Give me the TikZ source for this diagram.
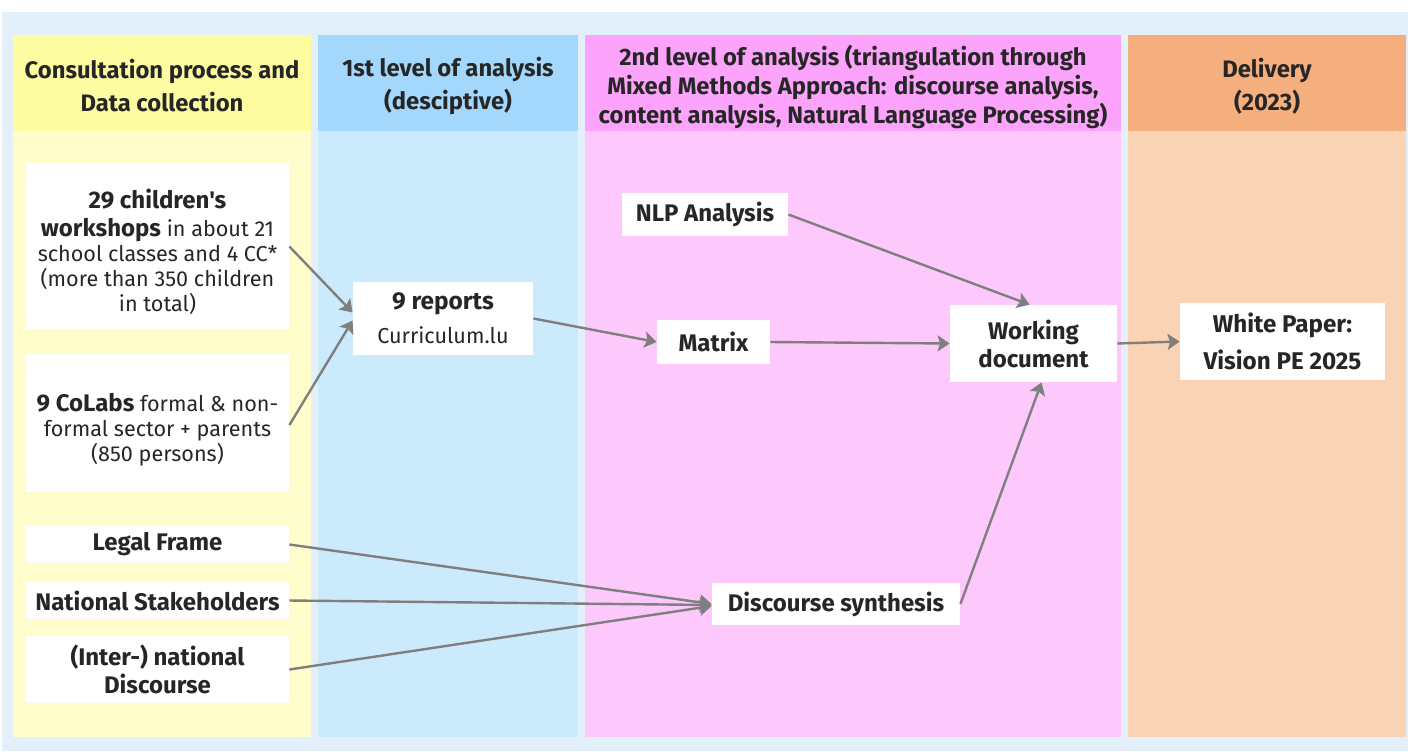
\documentclass[tikz,border=0pt]{standalone}
\usepackage{fontspec}
\setmainfont{Fira Sans}[Ligatures=TeXOff]
\usetikzlibrary{arrows.meta}

\definecolor{pagebg}{HTML}{E4F0F9}
\definecolor{yhead}{HTML}{FEFCA0}
\definecolor{ybody}{HTML}{FEFDCB}
\definecolor{bhead}{HTML}{A3D8FC}
\definecolor{bbody}{HTML}{CBEBFD}
\definecolor{phead}{HTML}{FCA3FB}
\definecolor{pbody}{HTML}{FDC9FD}
\definecolor{ohead}{HTML}{F5AE7E}
\definecolor{obody}{HTML}{FAD3B4}
\definecolor{ink}{HTML}{262626}
\definecolor{wire}{HTML}{7F7F7F}

% bold and regular sizes used on the cards
\newcommand{\bsz}{\fontsize{12}{14}\selectfont\bfseries}
\newcommand{\rsz}{\fontsize{10.8}{12.5}\selectfont}

\tikzset{
  headtext/.style={text=ink, font=\fontsize{11.9}{16.5}\selectfont\bfseries, align=center},
  card/.style={fill=white, inner sep=0pt, text=ink, align=center, font=\rsz},
  boldcard/.style={card, font=\bsz},
  cardtext/.style={inner sep=0pt, text=ink, align=center, font=\rsz},
  flow/.style={draw=wire, line width=1.2pt,
    -{Stealth[length=6pt, width=8pt, inset=1.2pt]}},
}

\begin{document}
\begin{tikzpicture}[x=0.5pt, y=-0.5pt]
\useasboundingbox (0,0) rectangle (1408,751);
\fill[white] (0,0) rectangle (1408,751);
\fill[pagebg] (2,12) rectangle (1408,751);

% swimlanes: header band and body
\fill[yhead] (13,35) rectangle (311,131);
\fill[ybody] (13,131) rectangle (311,737);
\fill[bhead] (318,35) rectangle (578,131);
\fill[bbody] (318,131) rectangle (578,737);
\fill[phead] (585,35) rectangle (1121,131);
\fill[pbody] (585,131) rectangle (1121,737);
\fill[ohead] (1128,35) rectangle (1406,131);
\fill[obody] (1128,131) rectangle (1406,737);

% lane titles
\node[headtext] (h1) at (162,86) {Consultation process and\\Data collection};
\node[headtext] (h2) at (448,86) {1st level of analysis\\(desciptive)};
\node[headtext, font=\fontsize{11.9}{14.4}\selectfont\bfseries] (h3) at (853,87)
  {2nd level of analysis (triangulation through\\Mixed Methods Approach: discourse analysis,\\content analysis, Natural Language Processing)};
\node[headtext] (h4) at (1267,86) {Delivery\\(2023)};

% source cards
\node[card, minimum width=131.5pt, minimum height=83pt] (kids) at (157.5,245.5) {};
\node[cardtext] (kids-text) at (157.5,252)
  {{\bsz 29 children's}\\[1.5pt]{\bsz workshops} in about 21\\school classes and 4 CC*\\(more than 350 children\\in total)};
\node[card, minimum width=131.5pt, minimum height=69pt] (colabs) at (157.5,423) {};
\node[cardtext] (colabs-text) at (157.5,429.5)
  {{\bsz 9 CoLabs} formal \& non-\\formal sector + parents\\(850 persons)};
\node[boldcard, minimum width=131.5pt, minimum height=18.5pt] (legal) at (157.5,544.5)
  {Legal Frame};
\node[boldcard, minimum width=131.5pt, minimum height=18.5pt] (stake) at (157.5,600.5)
  {National Stakeholders};
\node[boldcard, minimum width=131.5pt, minimum height=33.5pt] (inter) at (157.5,669.5)
  {(Inter-) national\\Discourse};

% analysis cards
\node[card, minimum width=90pt, minimum height=36.5pt, font=\fontsize{10.8}{17}\selectfont] (reports) at (443,318.5)
  {{\fontsize{12.2}{14}\selectfont\bfseries 9 reports}\\Curriculum.lu};
\node[boldcard, minimum width=83pt, minimum height=21.5pt] (nlp) at (705,214.5)
  {NLP Analysis};
\node[boldcard, minimum width=56.5pt, minimum height=22pt] (matrix) at (713.5,342)
  {Matrix};
\node[boldcard, minimum width=83.5pt, minimum height=38.5pt] (work) at (1033.5,343.5)
  {Working\\document};
\node[boldcard, minimum width=124pt, minimum height=21pt] (synth) at (836,604)
  {Discourse synthesis};
\node[boldcard, minimum width=102.5pt, minimum height=38.5pt, font=\fontsize{12.1}{18.8}\selectfont\bfseries] (paper) at (1282.5,341.5)
  {White Paper:\\Vision PE 2025};

% connectors
\draw[flow] ([yshift=-0.5pt]kids.east) -- ([yshift=3pt]reports.west);
\draw[flow] ([yshift=-1pt]colabs.east) -- ([yshift=-1pt]reports.west);
\draw[flow] (reports.east) -- (matrix.west);
\draw[flow] (nlp.east) -- ([xshift=-2pt]work.north);
\draw[flow] (matrix.east) -- (work.west);
\draw[flow] (synth.east) -- ([xshift=4pt]work.south);
\draw[flow] (legal.east) -- (synth.west);
\draw[flow] (stake.east) -- ([yshift=-0.5pt]synth.west);
\draw[flow] (inter.east) -- ([yshift=-1pt]synth.west);
\draw[flow] (work.east) -- (paper.west);
\end{tikzpicture}
\end{document}
